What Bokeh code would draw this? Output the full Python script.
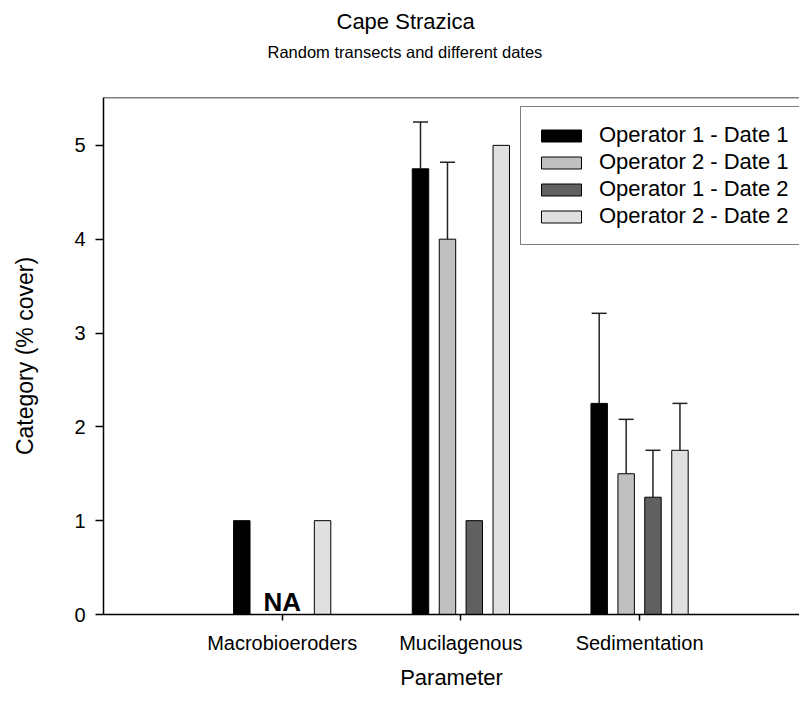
from bokeh.plotting import figure
from bokeh.models import (ColumnDataSource, Range1d, FixedTicker, Whisker, TeeHead,
                          Span, Title, Legend, LegendItem)
from bokeh.core.properties import value
from bokeh.embed import file_html
from bokeh.resources import INLINE

categories = ["Macrobioeroders", "Mucilagenous", "Sedimentation"]
series = ["Operator 1 - Date 1", "Operator 2 - Date 1", "Operator 1 - Date 2", "Operator 2 - Date 2"]
colors = ["#000000", "#c0c0c0", "#606060", "#e0e0e0"]
nan = float("nan")
op1_d1 = [1.0, 4.75, 2.25]
op2_d1 = [nan, 4.0, 1.5]
op1_d2 = [nan, 1.0, 1.25]
op2_d2 = [1.0, 5.0, 1.75]
op1_d1_err = [0.0, 0.5, 0.96]
op2_d1_err = [0.0, 0.82, 0.58]
op1_d2_err = [0.0, 0.0, 0.5]
op2_d2_err = [0.0, 0.0, 0.5]
na_category = ["Macrobioeroders"]
na_text = ["NA"]
y_ticks = [0, 1, 2, 3, 4, 5]
title_text = "Cape Strazica"
subtitle_text = "Random transects and different dates"
x_label = "Parameter"
y_label = "Category (% cover)"

values = [op1_d1, op2_d1, op1_d2, op2_d2]
errors = [op1_d1_err, op2_d1_err, op1_d2_err, op2_d2_err]
offsets = [-0.226, -0.075, 0.075, 0.226]
bar_w = 0.092
FONT = "Liberation Sans"

p = figure(width=799, height=693, output_backend="svg", toolbar_location=None,
           x_range=Range1d(0, 3.895), y_range=Range1d(0, 5.51),
           min_border_left=103, min_border_right=0, min_border_top=97, min_border_bottom=79)
p.outline_line_color = None
p.xgrid.visible = False
p.ygrid.visible = False

p.title.text = title_text
p.title.align = "left"
p.title.offset = 233
p.title.standoff = 13
p.title.text_font = FONT
p.title.text_font_size = "22px"
p.title.text_font_style = "normal"
p.title.text_color = "black"
# spacer between the subtitle and the plot frame
p.add_layout(Title(text=" ", text_font=FONT, text_font_size="11.5px", standoff=23), "above")
sub = Title(text=subtitle_text, align="left", offset=164, text_font=FONT,
            text_font_size="16.5px", text_font_style="normal", text_color="black",
            standoff=0)
p.add_layout(sub, "above")

xpos = [i + 1 for i in range(len(categories))]
items = []
for k in range(4):
    xs = [x + offsets[k] for x in xpos]
    src = ColumnDataSource(dict(x=xs, top=values[k]))
    r = p.vbar(x="x", top="top", width=bar_w, source=src, fill_color=colors[k],
               line_color="black", line_width=1)
    items.append(LegendItem(label=series[k], renderers=[r]))
    ex, eb, eu = [], [], []
    for x, v, e in zip(xs, values[k], errors[k]):
        if e > 0 and v == v:
            ex.append(x); eb.append(v); eu.append(v + e)
    if ex:
        esrc = ColumnDataSource(dict(x=ex, base=eb, upper=eu))
        w = Whisker(base="x", lower="base", upper="upper", source=esrc,
                    line_color="#222222", line_width=1.5,
                    upper_head=TeeHead(size=15, line_color="#222222", line_width=1.5),
                    lower_head=None)
        p.add_layout(w)

na_x = [categories.index(c) + 1 for c in na_category]
p.text(x=na_x, y=[0.13] * len(na_x), text=na_text, text_align="center",
       text_baseline="alphabetic", text_font=value(FONT), text_font_style="bold",
       text_font_size="26px", text_color="black")

legend = Legend(items=items, location=(417, 369), border_line_color="black",
                border_line_width=1, background_fill_alpha=1,
                label_text_font=FONT, label_text_font_size="22px", label_text_color="black",
                glyph_width=50, glyph_height=15, label_standoff=13,
                spacing=1, padding=15, margin=0)
p.add_layout(legend, "center")

p.add_layout(Span(location=5.51, dimension="width", line_color="black", line_width=1.5))

p.xaxis.ticker = FixedTicker(ticks=xpos)
p.xaxis.major_label_overrides = {x: c for x, c in zip(xpos, categories)}
p.yaxis.ticker = FixedTicker(ticks=y_ticks)
p.xaxis.axis_label = x_label
p.yaxis.axis_label = y_label
for ax in (p.xaxis, p.yaxis):
    ax.axis_line_width = 1.5
    ax.axis_line_color = "black"
    ax.major_tick_line_color = "black"
    ax.major_tick_line_width = 1.5
    ax.major_tick_in = 0
    ax.minor_tick_line_color = None
    ax.major_label_text_font = FONT
    ax.major_label_text_font_size = "20px"
    ax.major_label_text_color = "black"
    ax.axis_label_text_font = FONT
    ax.axis_label_text_font_size = "22px"
    ax.axis_label_text_font_style = "normal"
    ax.axis_label_text_color = "black"
p.yaxis.axis_label_text_font_size = "23px"
p.xaxis.major_tick_out = 6
p.yaxis.major_tick_out = 8
p.xaxis.major_label_standoff = 11
p.xaxis.axis_label_standoff = 8
p.yaxis.major_label_standoff = 10
p.yaxis.axis_label_standoff = 33

open("out.html", "w").write(file_html(p, INLINE))
